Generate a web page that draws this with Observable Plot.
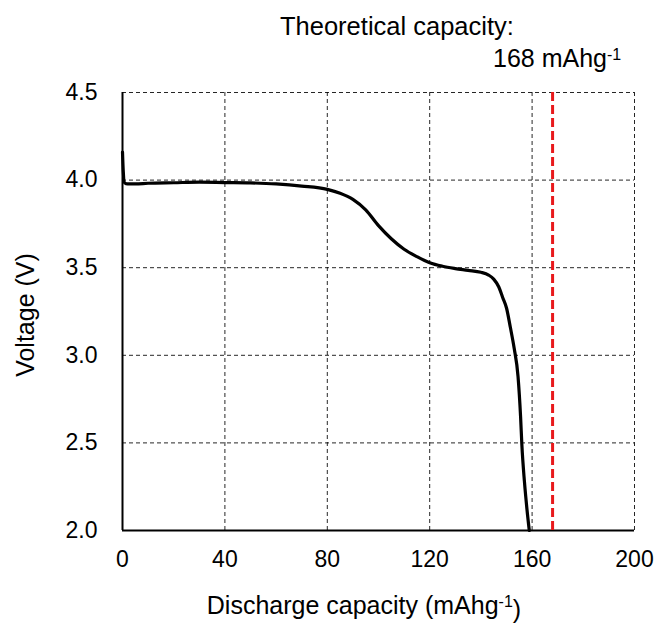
<!DOCTYPE html>
<html><head><meta charset="utf-8">
<script src="https://cdn.jsdelivr.net/npm/d3@7"></script>
<script src="https://cdn.jsdelivr.net/npm/@observablehq/plot@0.6"></script>
<style>
body{margin:0;background:#fff}
svg{font-family:"Liberation Sans",Arial,sans-serif}
</style>
</head><body><div id="chart"></div>
<script>
const capacity = [0, 0.3, 0.8, 2, 5, 10, 20, 30, 40, 50, 60, 70, 80, 85, 90, 95, 100, 105, 110, 115, 120, 125, 130, 135, 140, 143, 145, 147, 148.5, 150, 151.5, 153, 154.5, 155.5, 156, 157, 158, 158.9];
const voltage  = [4.16, 4.05, 3.985, 3.978, 3.978, 3.982, 3.985, 3.988, 3.986, 3.984, 3.978, 3.966, 3.947, 3.925, 3.89, 3.83, 3.74, 3.665, 3.605, 3.563, 3.528, 3.508, 3.495, 3.485, 3.474, 3.458, 3.435, 3.39, 3.33, 3.27, 3.16, 3.04, 2.88, 2.65, 2.49, 2.28, 2.12, 2.0];
const xTicks = [0, 40, 80, 120, 160, 200];
const yTicks = [2.0, 2.5, 3.0, 3.5, 4.0, 4.5];
const theoreticalCapacity = [168];
const xLabel = ["Discharge capacity (mAhg", "-1", ")"];
const yLabel = "Voltage (V)";
const noteLine1 = "Theoretical capacity:";
const noteLine2 = ["168 mAhg", "-1"];

const data = capacity.map((c, i) => ({c, v: voltage[i]}));
const gridStyle = {stroke: "#000", strokeOpacity: 0.85, strokeWidth: 1, strokeDasharray: "4,3"};

const plot = Plot.plot({
  width: 658, height: 624,
  marginLeft: 122, marginRight: 24, marginTop: 92, marginBottom: 94,
  style: {fontFamily: '"Liberation Sans", Arial, sans-serif', fontSize: "23px", color: "#000", background: "#fff"},
  x: {domain: [0, 200]},
  y: {domain: [2, 4.5]},
  marks: [
    Plot.gridX(xTicks.slice(1), gridStyle),
    Plot.gridY(yTicks.slice(1), gridStyle),
    Plot.ruleX([0], {stroke: "#000", strokeWidth: 2}),
    Plot.ruleY([2], {stroke: "#000", strokeWidth: 2}),
    Plot.ruleX(theoreticalCapacity, {stroke: "#e8191c", strokeWidth: 3, strokeDasharray: "9,4"}),
    Plot.line(data, {x: "c", y: "v", curve: "monotone-x", stroke: "#000", strokeWidth: 3.2}),
    Plot.axisX({ticks: xTicks, tickSize: 0, tickPadding: 20, label: null, fontSize: 23}),
    Plot.axisY({ticks: yTicks, tickSize: 0, tickPadding: 25, label: null, fontSize: 23, tickFormat: d3.format(".1f")})
  ]
});

const svg = d3.select(plot);
const font = '"Liberation Sans", Arial, sans-serif';
// x axis title
const xt = svg.append("text").attr("x", 364).attr("y", 614).attr("text-anchor", "middle")
  .attr("font-size", 25).attr("font-family", font).attr("fill", "#000");
xt.append("tspan").text(xLabel[0]);
xt.append("tspan").attr("dy", "-0.42em").attr("font-size", 16).text(xLabel[1]);
xt.append("tspan").attr("dy", "0.42em").text(xLabel[2]);
// y axis title
svg.append("text").attr("transform", "translate(34,315) rotate(-90)").attr("text-anchor", "middle")
  .attr("font-size", 25).attr("font-family", font).attr("fill", "#000").text(yLabel);
// annotation
svg.append("text").attr("x", 280).attr("y", 35).attr("text-anchor", "start").attr("font-size", 25.5).attr("font-family", font)
  .attr("fill", "#000").text(noteLine1);
const n2 = svg.append("text").attr("x", 493).attr("y", 67).attr("text-anchor", "start").attr("font-size", 25).attr("font-family", font).attr("fill", "#000");
n2.append("tspan").text(noteLine2[0]);
n2.append("tspan").attr("dy", "-0.42em").attr("font-size", 16).text(noteLine2[1]);

document.getElementById("chart").appendChild(plot);
</script>
</body></html>
